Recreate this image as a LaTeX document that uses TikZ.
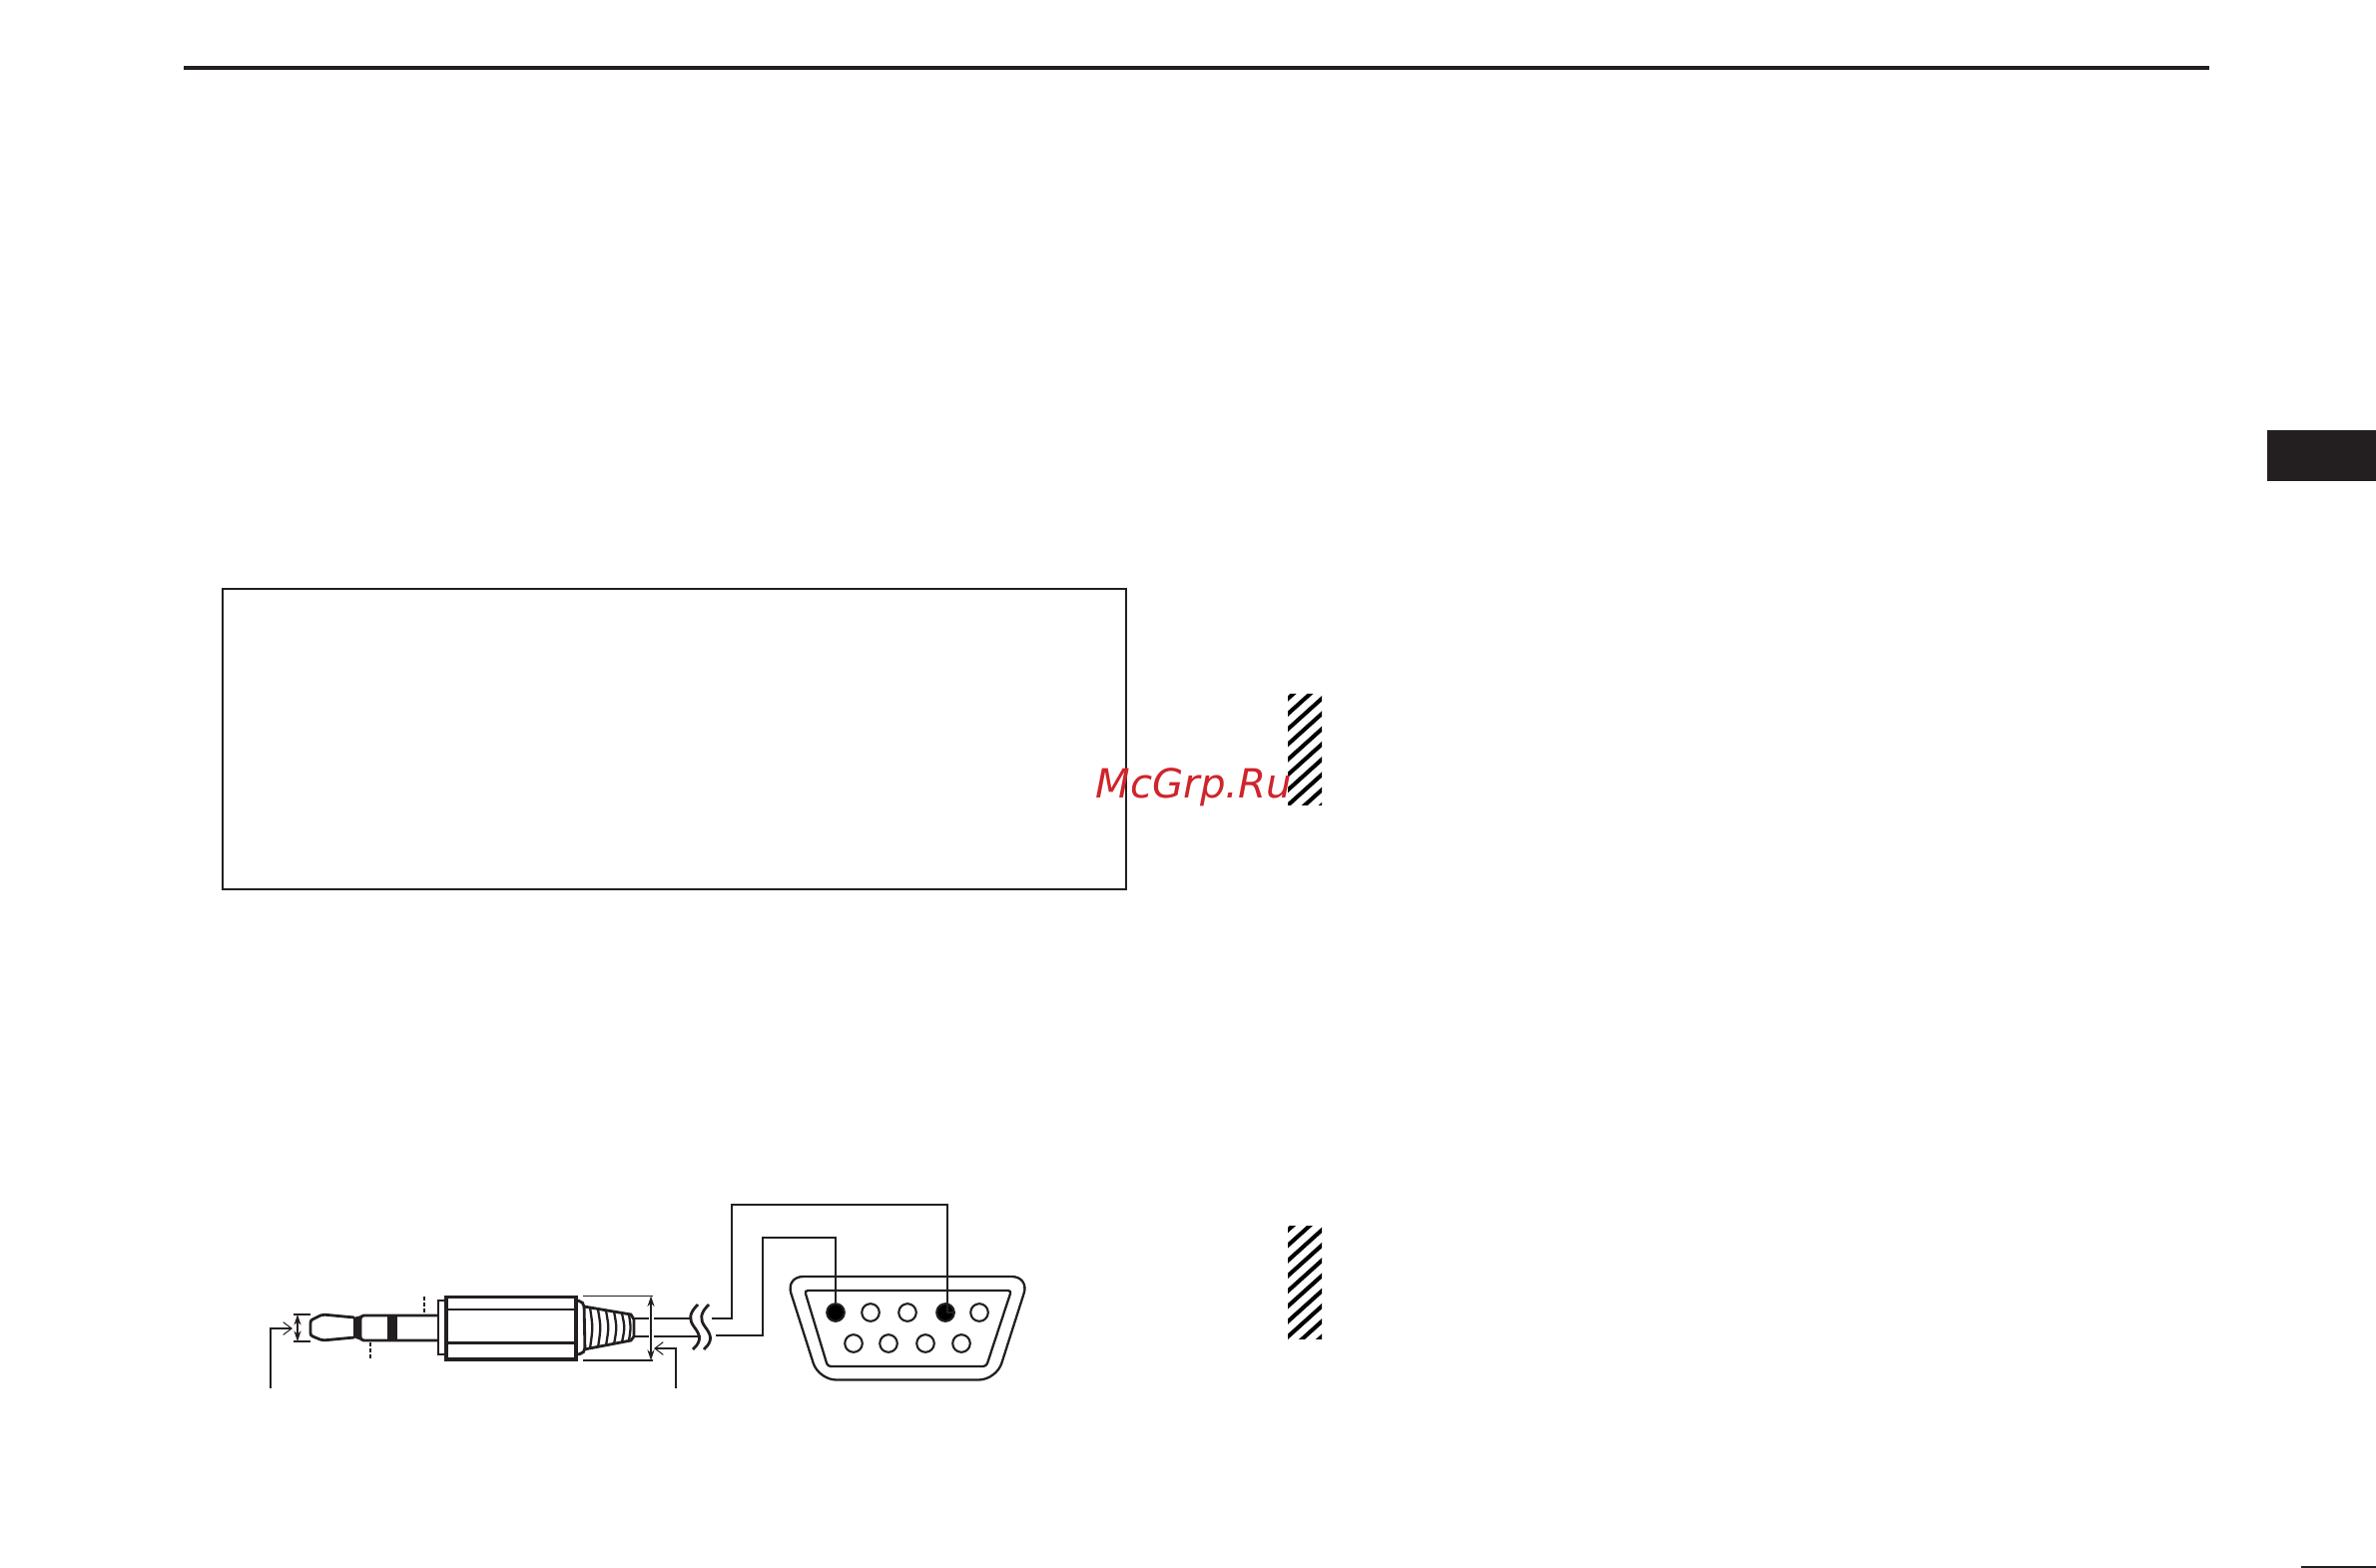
\documentclass[tikz,border=0pt]{standalone}
\usepackage{fontspec}
\usetikzlibrary{arrows.meta}
\setsansfont{DejaVu Sans}
\definecolor{inkblack}{HTML}{231F20}
\definecolor{markred}{HTML}{D0242B}
\tikzset{
  hair/.style={draw=inkblack,line width=0.3pt},
  wire/.style={draw=inkblack,line width=0.65pt},
  plugline/.style={draw=inkblack,line width=0.8pt},
  heavy/.style={draw=inkblack,line width=1pt},
  ticks/.style={draw=inkblack,line width=0.55pt,dash pattern=on 1.1pt off 0.6pt},
  dimline/.style={hair,{Stealth[length=3pt,width=2pt]}-{Stealth[length=3pt,width=2pt]}},
  leader/.style={wire,-{Straight Barb[length=2.4pt,width=3.6pt,line width=0.3pt]}},
  pinopen/.style={circle,draw=inkblack,fill=white,line width=0.6pt,inner sep=0pt,minimum size=5pt},
  pinfull/.style={pinopen,fill=black}
}

\begin{document}
\begin{tikzpicture}[x=0.01cm,y=-0.01cm]
  \useasboundingbox (0,0) rectangle (2380,1571);

  %page furniture
  \draw[draw=inkblack,line width=1.14pt] (184,68) -- (2213,68);
  \fill[inkblack] (2271,431) rectangle (2380,482);
  \fill[inkblack] (2305,1569) rectangle (2380,1571);
  \draw[wire] (223,590) rectangle (1128,891);

  %hatched bars
  \begin{scope}
    \clip (1290,696) rectangle (1324,807);
    \foreach \h in {0,...,11}
      \draw[black,line width=1.15pt] (1280,{700+15.25*\h+9}) -- (1334,{700+15.25*\h-39.6});
  \end{scope}
  \begin{scope}
    \clip (1290,1228) rectangle (1324,1341);
    \foreach \h in {0,...,11}
      \draw[black,line width=1.15pt] (1280,{1232.5+15.25*\h+9}) -- (1334,{1232.5+15.25*\h-39.6});
  \end{scope}

  %plug tip
  \draw[plugline,rounded corners=0.6pt] (355,1320) -- (323,1317) -- (311,1323) -- (311,1338) -- (323,1343) -- (355,1340);
  \fill[inkblack] (354,1320) -- (362,1318) -- (362,1343) -- (354,1340) -- cycle;
  \draw[plugline,rounded corners=1pt] (439,1318) -- (361,1318) -- (361,1343) -- (439,1343);
  \fill[inkblack] (388,1318) rectangle (398,1343);

  %body of the plug
  \draw[plugline] (439,1303) rectangle (447,1357);
  \draw[heavy,fill=white] (447,1299.5) rectangle (577,1362);
  \draw[plugline] (447,1312) -- (577,1312);
  \draw[plugline] (447,1345.5) -- (577,1345.5);
  \draw[plugline,rounded corners=1.5pt] (577,1303) -- (585,1304) -- (586,1356) -- (577,1357);

  %strain relief
  \draw[plugline] (585,1309) -- (632,1317) -- (635,1322) -- (635,1339) -- (632,1343) -- (585,1352);
  \draw[wire] (591,1310) .. controls (594,1330) .. (591,1351);
  \draw[wire] (599,1312) .. controls (602,1330) .. (599,1350);
  \draw[wire] (607,1313) .. controls (610,1330) .. (607,1348);
  \draw[wire] (615,1314) .. controls (618,1330) .. (615,1347);
  \draw[wire] (623,1316) .. controls (626,1330) .. (623,1345);
  \draw[wire] (630,1317) .. controls (632,1330) .. (630,1343);

  %cable and break marks
  \draw[plugline] (635,1321) -- (650,1321);
  \draw[plugline] (655,1321) -- (692,1321);
  \draw[plugline] (635,1339) -- (650,1339);
  \draw[plugline] (655,1339) -- (702,1339);
  \draw[plugline] (699,1307) .. controls (690,1316) and (690,1322) .. (695,1329) .. controls (701,1337) and (704,1343) .. (694,1352);
  \draw[plugline] (710,1307) .. controls (701,1316) and (701,1322) .. (706,1329) .. controls (712,1337) and (715,1343) .. (705,1352);

  %dimensions
  \coordinate (tipdimtop) at (298,1317);
  \coordinate (tipdimbot) at (298,1344);
  \coordinate (cabledimtop) at (652,1298.5);
  \coordinate (cabledimbot) at (652,1363);
  \draw[hair] (294,1317) -- (311,1317);
  \draw[hair] (294,1344) -- (311,1344);
  \draw[hair] (584,1298.5) -- (654,1298.5);
  \draw[hair] (584,1363) -- (654,1363);
  \draw[dimline] (tipdimtop) -- (tipdimbot);
  \draw[dimline] (cabledimtop) -- (cabledimbot);
  \draw[ticks] (425,1299) -- (425,1318);
  \draw[ticks] (371,1345) -- (371,1361);

  %leaders
  \coordinate (tipfoot) at (271,1391);
  \coordinate (tiphead) at (293,1331);
  \coordinate (cablefoot) at (677,1391);
  \coordinate (cablehead) at (655,1351);
  \draw[leader] (tipfoot) |- (tiphead);
  \draw[leader] (cablefoot) |- (cablehead);

  %connector shell
  \draw[wire,rounded corners=5pt] (787,1279) -- (1031,1279) -- (998,1382.5) -- (820,1382.5) -- cycle;
  \draw[wire,rounded corners=0.9pt] (806,1293) -- (1013,1293) -- (988,1369) -- (829,1369) -- cycle;

  %pins
  \node[pinfull] (pin1) at (837,1315) {};
  \node[pinopen] (pin2) at (872,1315) {};
  \node[pinopen] (pin3) at (909,1315) {};
  \node[pinfull] (pin4) at (947,1315) {};
  \node[pinopen] (pin5) at (981,1315) {};
  \node[pinopen] (pin6) at (855,1346) {};
  \node[pinopen] (pin7) at (890,1346) {};
  \node[pinopen] (pin8) at (927,1346) {};
  \node[pinopen] (pin9) at (963,1346) {};

  %wires
  \coordinate (wireend) at (713,1321);
  \coordinate (wiretwoend) at (717,1338);
  \draw[wire] (wireend) -- (733,1321) -- (733,1207) -- (949,1207) -- (949,1315) -- (pin4);
  \draw[wire] (wiretwoend) -- (764,1338) -- (764,1240) -- (837,1240) -- (pin1);

  %watermark
  \node[anchor=base west,inner sep=0pt,text=markred,font=\sffamily\itshape\fontsize{11.45pt}{13pt}\selectfont] (mark) at (1097,800) {McGrp.Ru};
\end{tikzpicture}
\end{document}
